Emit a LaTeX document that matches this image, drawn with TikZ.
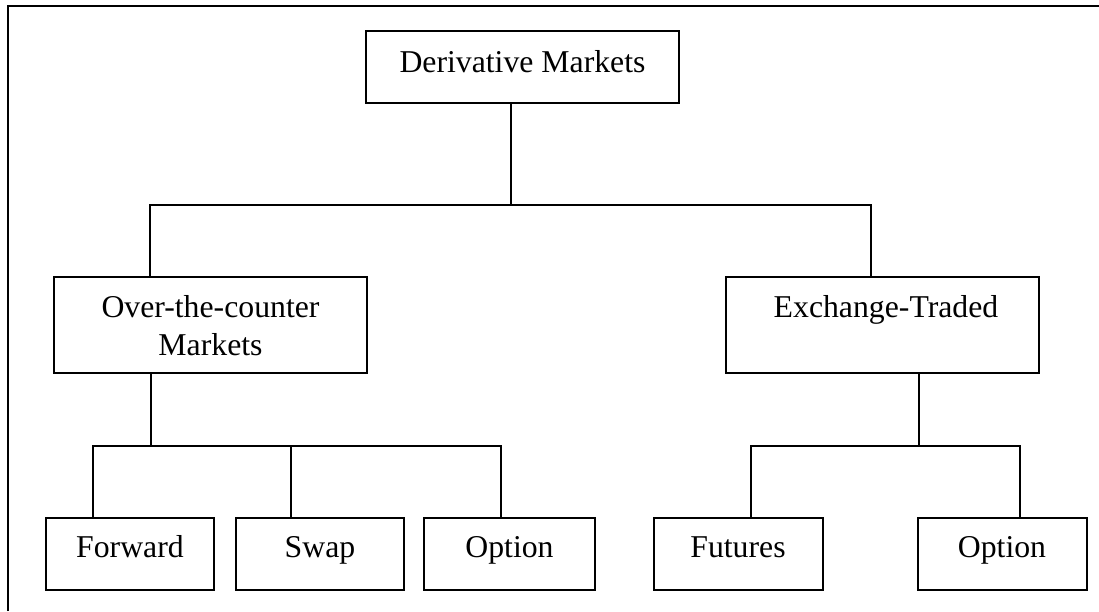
\documentclass[tikz,border=0pt]{standalone}
\usepackage{fontspec}
\setmainfont{Liberation Serif}
\tikzset{
  box/.style={draw=black, line width=2pt, rectangle, inner sep=0pt, outer sep=0pt, minimum height=72pt},
  bigbox/.style={box, minimum width=313pt},
  leafbox/.style={box, minimum width=169pt},
  lbl/.style={anchor=base, inner sep=0pt, font=\fontsize{31.75}{38}\selectfont, align=center},
  conn/.style={draw=black, line width=2pt},
  frame/.style={draw=black, line width=2.5pt}
}
\begin{document}
\begin{tikzpicture}[x=1pt, y=-1pt]
\useasboundingbox (0,0) rectangle (1099,611);
% outer frame (top and left edges only)
\draw[frame] (7.8,611) -- (7.8,6) -- (1099,6);
% boxes
\node[bigbox] (dm) at (522.5,67) {};
\node[bigbox, minimum height=96pt] (otc) at (210.5,325) {};
\node[bigbox, minimum height=96pt] (exch) at (882.5,325) {};
\node[leafbox, minimum width=168pt] (fwd) at (130,553.5) {};
\node[leafbox, minimum width=168pt] (swap) at (320,553.5) {};
\node[leafbox, minimum width=171pt] (opt1) at (509.5,553.5) {};
\node[leafbox] (fut) at (738,553.5) {};
\node[leafbox] (opt2) at (1002,553.5) {};
% labels
\node[lbl] (dmt) at (522.5,72) {Derivative Markets};
\node[lbl] (otct1) at (210.5,317) {Over-the-counter};
\node[lbl] (otct2) at (210.5,355) {Markets};
\node[lbl] (excht) at (886,317.7) {Exchange-Traded};
\node[lbl] (fwdt) at (130,557.7) {Forward};
\node[lbl] (swapt) at (320,557.7) {Swap};
\node[lbl] (opt1t) at (509.5,557.7) {Option};
\node[lbl] (futt) at (738,557.7) {Futures};
\node[lbl] (opt2t) at (1002,557.7) {Option};
% junctions
\coordinate (j0) at (511,205);
\coordinate (ja) at (150,205);
\coordinate (jb) at (871,205);
\coordinate (j2) at (150.5,445.5);
\coordinate (jf) at (92.5,445.5);
\coordinate (js) at (290.5,445.5);
\coordinate (jo) at (500.5,445.5);
\coordinate (j3) at (918.5,445.5);
\coordinate (jfu) at (750.5,445.5);
\coordinate (jo2) at (1019.5,445.5);
% connectors
\draw[conn] (dm.south -| j0) -- (j0);
\draw[conn] (otc.north -| ja) -- (ja) -- (jb) -- (exch.north -| jb);
\draw[conn] (otc.south -| j2) -- (j2);
\draw[conn] (fwd.north -| jf) -- (jf) -- (jo) -- (opt1.north -| jo);
\draw[conn] (swap.north -| js) -- (js);
\draw[conn] (exch.south -| j3) -- (j3);
\draw[conn] (fut.north -| jfu) -- (jfu) -- (jo2) -- (opt2.north -| jo2);
\end{tikzpicture}
\end{document}
